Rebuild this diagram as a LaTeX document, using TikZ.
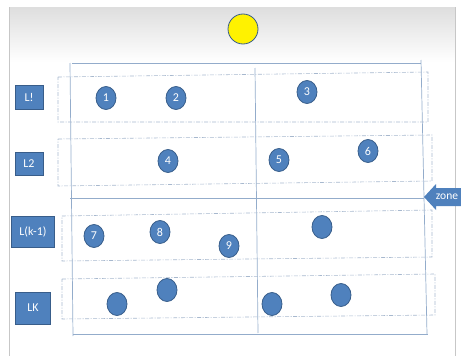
\documentclass[tikz,border=0pt]{standalone}
\usepackage{fontspec}
\setmainfont{Carlito}
\usetikzlibrary{shapes.geometric}
\definecolor{nodeblue}{HTML}{4F81BD}
\definecolor{nodeedge}{HTML}{385D8A}
\definecolor{gridline}{HTML}{93ACCB}
\definecolor{zoneline}{HTML}{A7B8CE}
\begin{document}
\begin{tikzpicture}[x=1pt, y=-1pt,
  lvl/.style={draw=nodeedge, line width=0.8pt, fill=nodeblue, text=white, rectangle, inner sep=0pt, font=\fontsize{12}{14}\selectfont},
  pt/.style={draw=nodeedge, line width=0.8pt, fill=nodeblue, text=white, ellipse, minimum width=20pt, minimum height=23pt, inner sep=0pt, font=\fontsize{12}{14}\selectfont},
  zonebox/.style={dash pattern=on 4pt off 1.5pt on 1pt off 1.5pt, draw=zoneline, line width=0.6pt},
  grid/.style={draw=gridline, line width=0.7pt}]
\useasboundingbox (0,0) rectangle (461,356);
% slide background
\shade[top color=black!13, bottom color=white] (9,7) rectangle (455,62);
\draw[black!22, line width=0.7pt] (9,7) -- (9,356);
\draw[black!22, line width=0.7pt] (455,7) -- (455,356);
% sun
\node[draw=nodeedge, line width=0.8pt, fill=yellow, circle, minimum size=30pt, inner sep=0pt] (sun) at (243,29) {};
% grid
\draw[grid] (72,63) -- (421,63);
\draw[grid] (70,63) -- (73,336);
\draw[grid] (421,60) -- (427,334);
\draw[grid] (73,334) -- (428,334);
\draw[grid] (255,68) -- (258,333);
\draw[grid] (70,198) -- (424,198);
% zones
\draw[zonebox] (58,77) -- (428,72) -- (428,122) -- (58,122) -- cycle;
\draw[zonebox] (58,139) -- (432,135) -- (432,181) -- (58,186) -- cycle;
\draw[zonebox] (62,216) -- (432,210) -- (432,257) -- (62,261) -- cycle;
\draw[zonebox] (62,279) -- (435,274) -- (435,315) -- (62,319) -- cycle;
% levels
\node[lvl, minimum width=28pt, minimum height=24pt] (l1) at (29,97) {L!};
\node[lvl, minimum width=28pt, minimum height=23pt] (l2) at (29,164) {L2};
\node[lvl, minimum width=43pt, minimum height=31pt] (lk1) at (33,232) {L(k-1)};
\node[lvl, minimum width=35pt, minimum height=32pt] (lk) at (33,308) {LK};
% nodes
\node[pt] (n1) at (106,98) {1};
\node[pt] (n2) at (176,98) {2};
\node[pt] (n3) at (307,92) {3};
\node[pt] (n4) at (168,161) {4};
\node[pt] (n5) at (279,160) {5};
\node[pt] (n6) at (368,151) {6};
\node[pt] (n7) at (94,236) {7};
\node[pt] (n8) at (160,232) {8};
\node[pt] (n9) at (229,246) {9};
\node[pt] (n10) at (322,227) {};
\node[pt] (n11) at (117,304) {};
\node[pt] (n12) at (167,290) {};
\node[pt] (n13) at (272,304) {};
\node[pt] (n14) at (341,295) {};
% zone arrow
\fill[nodeblue] (424,197) -- (436,184) -- (436,188) -- (461,188) -- (461,206) -- (436,206) -- (436,210) -- cycle;
\node[text=white, font=\fontsize{11.5}{13}\selectfont, inner sep=0pt] (zone) at (447,197) {zone};
\end{tikzpicture}
\end{document}
